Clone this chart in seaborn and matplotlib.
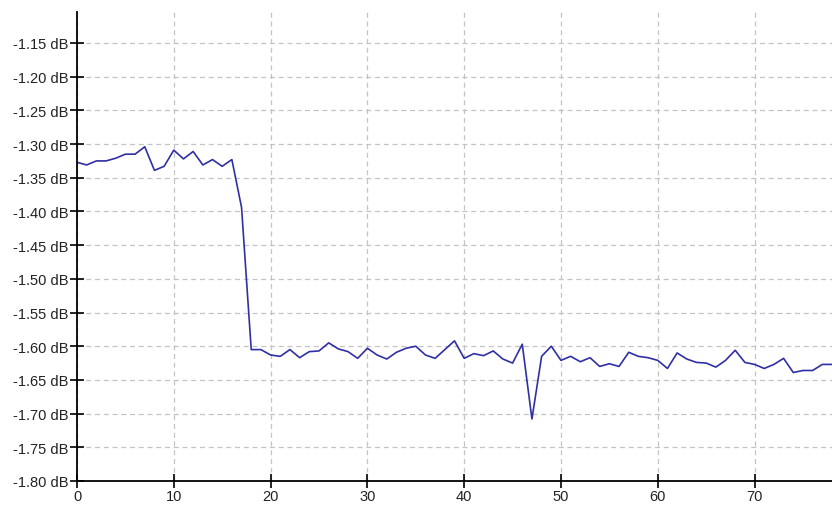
import matplotlib
matplotlib.use("Agg")
import matplotlib.pyplot as plt
import seaborn as sns
import pandas as pd
import numpy as np
from matplotlib.ticker import FuncFormatter, MultipleLocator

# Data (one sample per integer x)
x_values = list(range(0, 79))
db_values = [
    -1.327, -1.331, -1.325, -1.325, -1.321, -1.315, -1.315, -1.304, -1.339, -1.333,
    -1.309, -1.322, -1.311, -1.331, -1.323, -1.333, -1.323, -1.394, -1.605, -1.605,
    -1.613, -1.615, -1.605, -1.617, -1.608, -1.607, -1.595, -1.604, -1.608, -1.618,
    -1.603, -1.613, -1.619, -1.609, -1.603, -1.600, -1.613, -1.618, -1.605, -1.592,
    -1.618, -1.611, -1.614, -1.607, -1.619, -1.625, -1.597, -1.708, -1.615, -1.600,
    -1.621, -1.615, -1.623, -1.617, -1.630, -1.626, -1.630, -1.609, -1.615, -1.617,
    -1.621, -1.633, -1.610, -1.619, -1.624, -1.625, -1.631, -1.621, -1.606, -1.624,
    -1.627, -1.633, -1.627, -1.618, -1.639, -1.636, -1.636, -1.627, -1.627,
]
x_ticks = [0, 10, 20, 30, 40, 50, 60, 70]
y_ticks = [-1.80, -1.75, -1.70, -1.65, -1.60, -1.55, -1.50, -1.45, -1.40,
           -1.35, -1.30, -1.25, -1.20, -1.15]

df = pd.DataFrame({"x": x_values, "dB": db_values})

sns.set_style("white")
plt.rcParams["font.family"] = ["Liberation Sans", "DejaVu Sans"]

fig = plt.figure(figsize=(8.32, 5.06), dpi=100)
ax = fig.add_axes([77 / 832, 1 - 482 / 506, 1 - 77 / 832, (482 - 13) / 506])

sns.lineplot(data=df, x="x", y="dB", ax=ax, color="#3030a4", linewidth=1.2)

ax.set_xlim(0, 78)
ax.set_ylim(-1.80, -1.104)
ax.set_xticks(x_ticks)
ax.set_yticks(y_ticks)
ax.yaxis.set_major_formatter(FuncFormatter(lambda v, p: f"{v:.2f} dB"))
ax.set_xlabel("")
ax.set_ylabel("")

ax.grid(True, color="#c4c4c4", linestyle=(0, (4, 3)), linewidth=0.9)
ax.set_axisbelow(True)

for s in ["top", "right"]:
    ax.spines[s].set_visible(False)
for s in ["left", "bottom"]:
    ax.spines[s].set_color("black")
    ax.spines[s].set_linewidth(1.3)

ax.tick_params(axis="both", direction="inout", length=10, width=1.2,
               color="black", labelsize=10.5, labelcolor="#222222", pad=1)
ax.tick_params(axis="x", pad=1)
ax.tick_params(left=True, bottom=True)

fig.savefig("out.png", dpi=100)
